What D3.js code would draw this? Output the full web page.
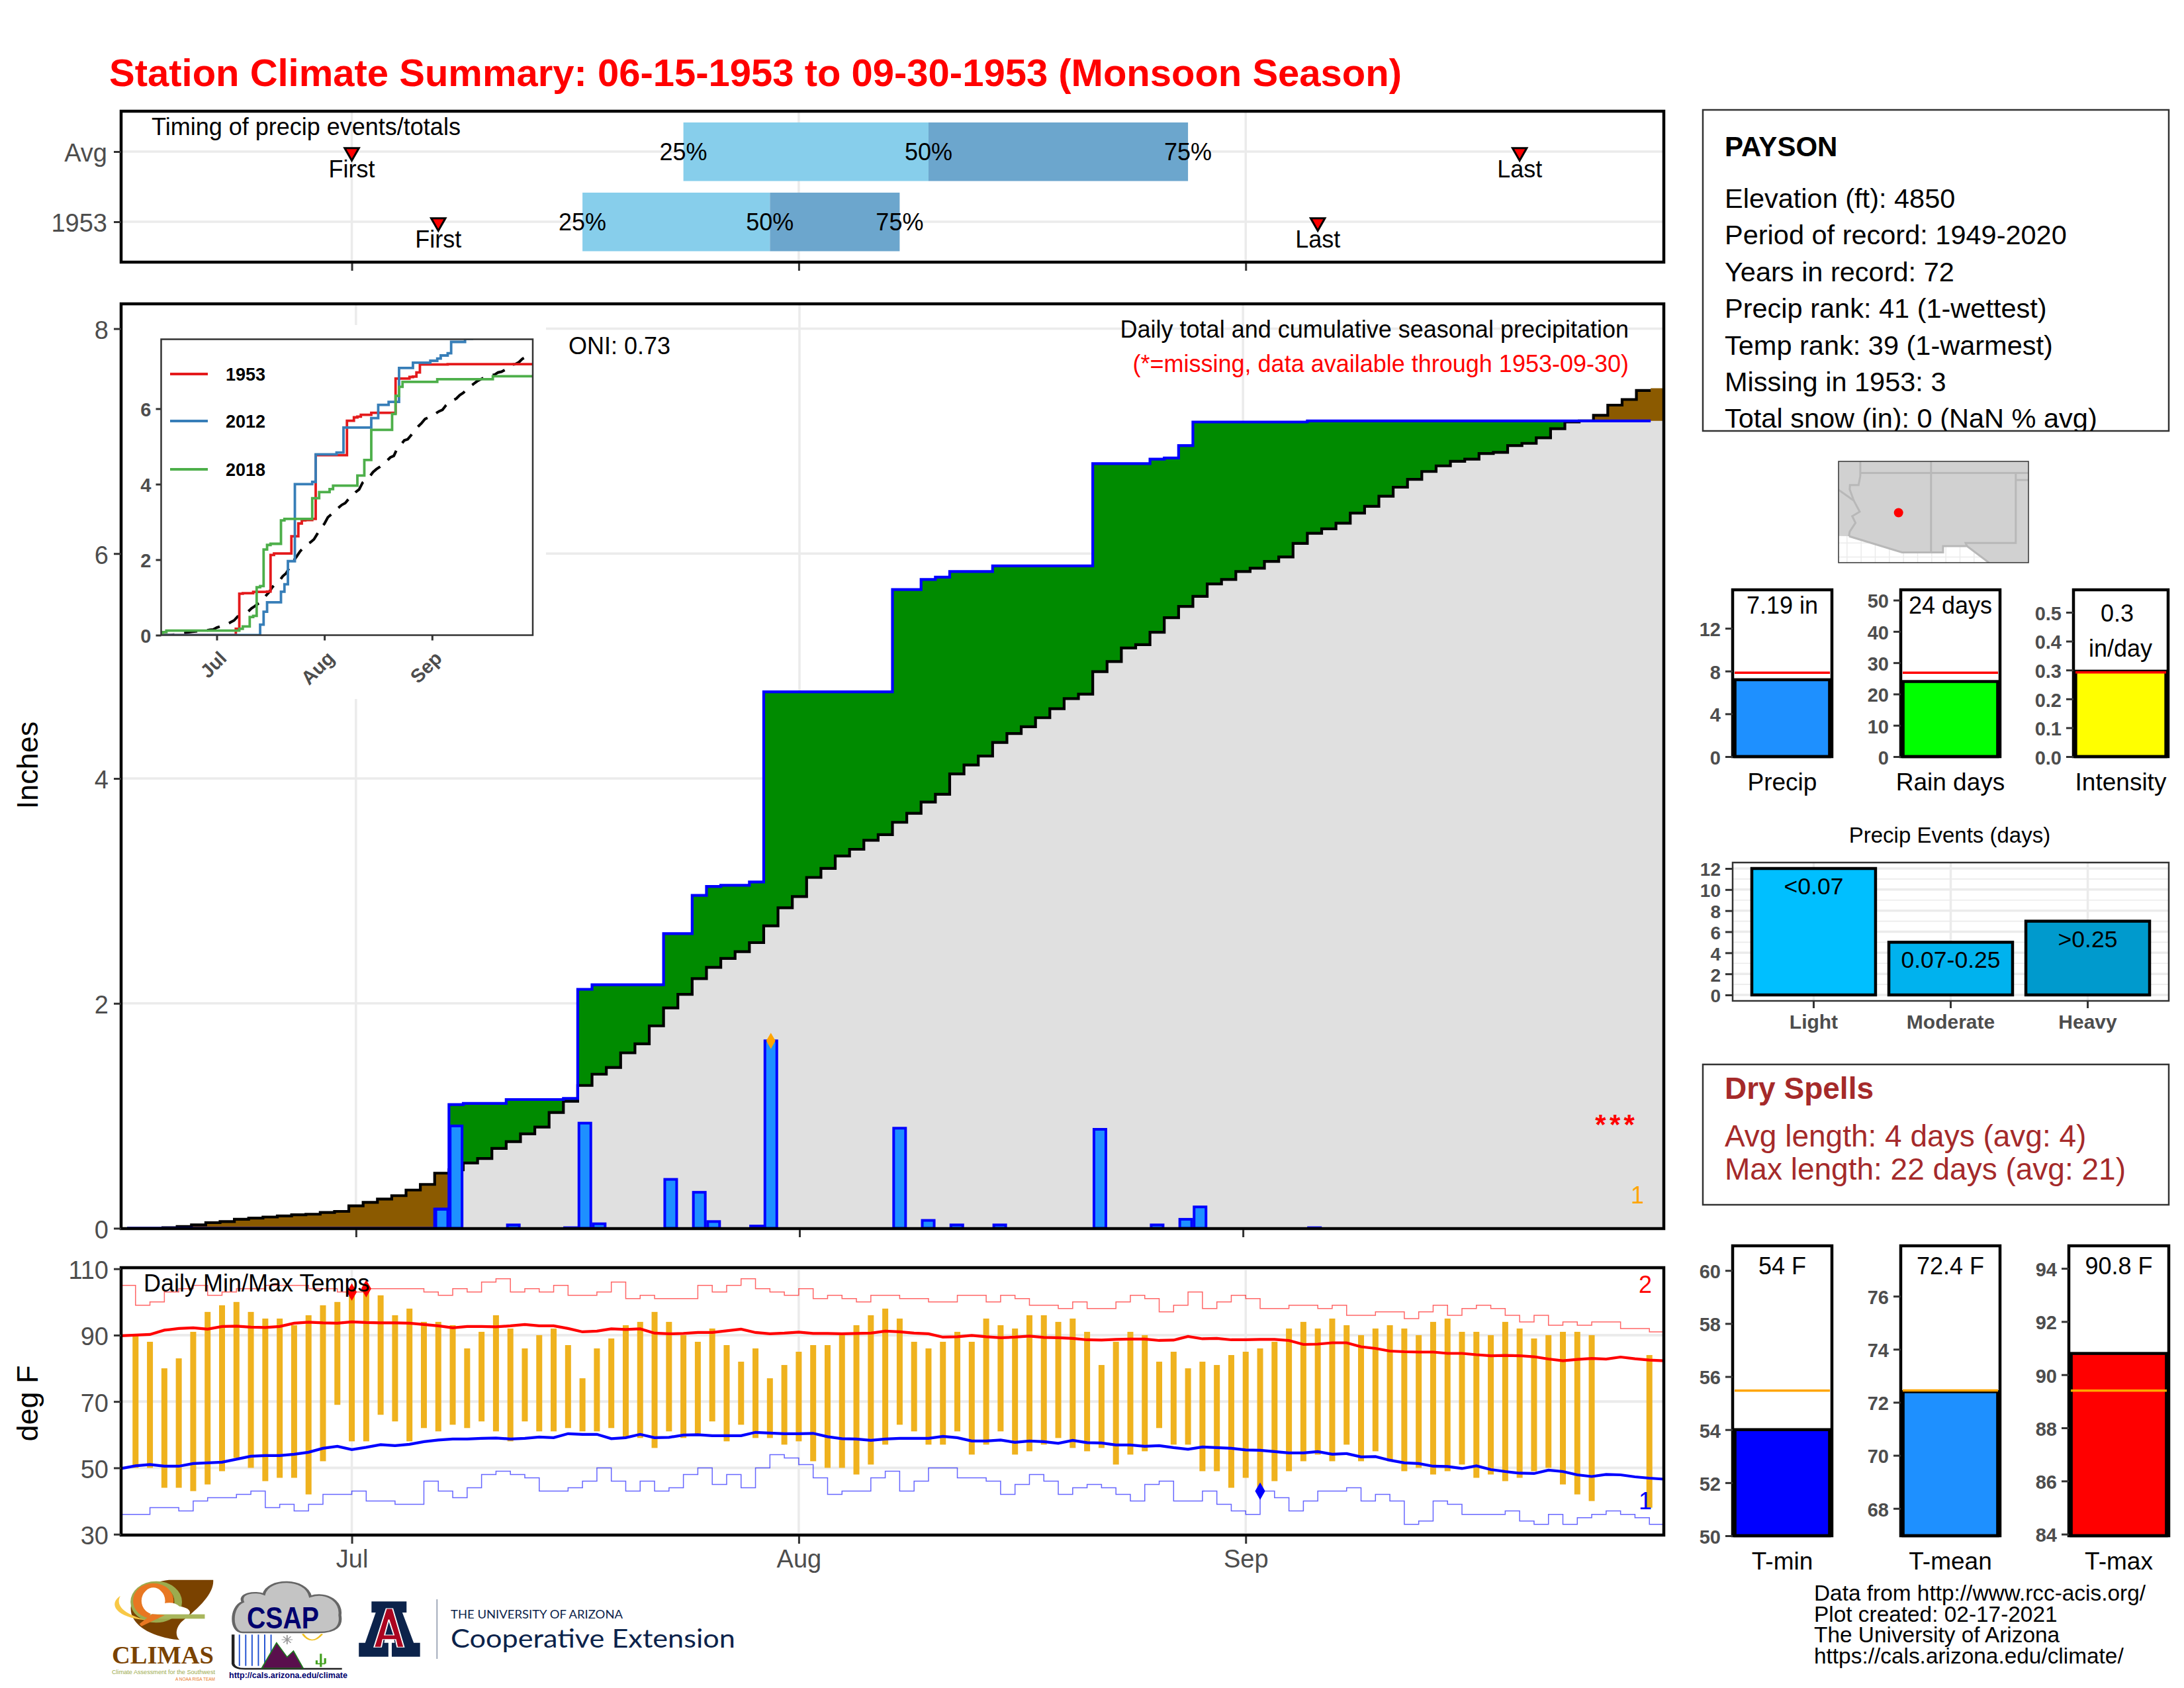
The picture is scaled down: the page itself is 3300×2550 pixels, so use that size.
<!DOCTYPE html>
<html>
<head>
<meta charset="utf-8">
<script src="https://cdnjs.cloudflare.com/ajax/libs/d3/7.8.5/d3.min.js"></script>
<style>
  html, body { margin: 0; padding: 0; background: #fff; }
  text { font-family: "Liberation Sans", Arial, sans-serif; }
</style>
</head>
<body>
<div id="chart"></div>
<script>
// ---- values, one entry per day from 06-15 to 09-30 ----
var avgCum = [
  0,0,0,.005,.015,.03,.05,.06,.08,.09,
  .10,.11,.12,.125,.14,.15,.20,.23,.26,.29,
  .34,.39,.49,.52,.58,.62,.71,.77,.84,.90,
  1.03,1.13,1.27,1.37,1.43,1.56,1.64,1.80,1.96,2.08,
  2.22,2.32,2.40,2.46,2.54,2.69,2.85,2.95,3.12,3.20,
  3.31,3.37,3.45,3.50,3.61,3.69,3.79,3.86,4.04,4.12,
  4.20,4.32,4.40,4.46,4.54,4.62,4.71,4.75,4.95,5.04,
  5.16,5.19,5.30,5.43,5.53,5.62,5.73,5.77,5.84,5.87,
  5.93,5.97,6.09,6.18,6.22,6.27,6.36,6.42,6.51,6.59,
  6.66,6.73,6.78,6.82,6.84,6.89,6.90,6.96,6.98,7.03,
  7.11,7.17,7.18,7.23,7.32,7.37,7.45,7.47];
var obsCum = [
  0,0,0,0,0,0,0,0,0,0,
  0,0,0,0,0,0,0,0,0,0,
  0,0,.17,1.10,1.11,1.11,1.11,1.145,1.145,1.145,
  1.145,1.155,2.125,2.165,2.165,2.165,2.165,2.165,2.62,2.62,
  2.96,3.04,3.05,3.05,3.08,4.77,4.77,4.77,4.77,4.77,
  4.77,4.77,4.77,4.77,5.68,5.68,5.77,5.79,5.84,5.84,
  5.84,5.89,5.89,5.89,5.89,5.89,5.89,5.89,6.80,6.80,
  6.80,6.80,6.84,6.85,6.96,7.17,7.17,7.17,7.17,7.17,
  7.17,7.17,7.17,7.18,7.18,7.18,7.18,7.18,7.18,7.18,
  7.18,7.18,7.18,7.18,7.18,7.18,7.18,7.18,7.18,7.18,
  7.18,7.18,7.18,7.18,7.18,7.18,7.18,7.18];
var cum2012 = [
  0,0,0,0,0,0,0,0,0,0,
  0,0,0,0,0,0,0,0,0,0,
  0,0,0,0,0,0,0,0,0,.28,
  .62,.87,.87,.87,.87,1.15,1.35,1.96,1.96,4.0,
  4.0,4.0,4.0,4.0,4.06,4.79,4.79,4.79,4.79,4.79,
  4.79,4.84,4.84,5.5,5.5,5.5,5.5,5.5,5.5,5.5,
  5.5,5.75,5.75,6.1,6.1,6.1,6.18,6.18,6.18,7.08,
  7.08,7.08,7.08,7.22,7.22,7.22,7.22,7.22,7.27,7.27,
  7.33,7.41,7.41,7.47,7.77,7.77,7.77,7.77,7.85,7.85,
  7.9,7.9,7.9,7.9,7.9,7.9,7.9,7.9,7.9,7.9,
  7.9,7.9,7.9,7.9,7.9,7.9,7.9,7.9];
var cum2018 = [
  .05,.08,.12,.12,.12,.12,.12,.12,.12,.12,
  .12,.12,.12,.12,.12,.12,.12,.12,.12,.12,
  .12,.12,.12,.17,.23,.23,.48,.51,1.27,1.30,
  2.27,2.39,2.42,2.42,2.42,3.04,3.08,3.08,3.08,3.08,
  3.08,3.08,3.08,3.08,3.63,3.63,3.79,3.79,3.79,3.87,
  3.96,3.96,3.96,3.96,3.96,3.96,3.96,4.23,4.23,4.64,
  4.64,5.44,5.44,5.44,5.44,5.44,5.44,5.86,6.34,6.58,
  6.71,6.71,6.71,6.71,6.71,6.71,6.71,6.71,6.71,6.71,
  6.78,6.78,6.78,6.78,6.78,6.78,6.78,6.78,6.78,6.78,
  6.78,6.78,6.78,6.78,6.78,6.78,6.86,6.86,6.86,6.86,
  6.86,6.86,6.86,6.86,6.86,6.86,6.86,6.86];
var inchTicks = [0,2,4,6,8];
var insetTicks = [0,2,4,6];
var monthTicks = ["1953-07-01","1953-08-01","1953-09-01"];

var precipDates = ["1953-07-07","1953-07-08","1953-07-12","1953-07-16","1953-07-17","1953-07-18","1953-07-23","1953-07-25","1953-07-26","1953-07-29","1953-07-30","1953-08-08","1953-08-10","1953-08-12","1953-08-15","1953-08-22","1953-08-26","1953-08-28","1953-08-29","1953-09-06"];
var precipVals = [.17,.91,.03,.005,.935,.04,.435,.32,.06,.02,1.667,.89,.07,.03,.03,.88,.03,.08,.19,.005];
var missingDates = ["1953-09-26","1953-09-27","1953-09-28"];

var tmax = [
  null,90,88,80,83,91,97,99,100,97,
  95,95,93,96,99,100,103,104,102,96,
  98,94,94,93,86,91,96,92,86,90,
  92,87,77,86,89,93,94,97,94,90,
  88,92,87,82,86,77,81,85,87,87,
  90,93,96,98,95,88,86,88,91,88,
  95,93,92,96,96,94,95,91,81,88,
  91,90,82,85,80,82,81,84,85,86,
  88,92,94,92,95,93,90,92,93,92,
  90,94,95,91,91,90,94,92,89,90,
  91,91,90,null,null,null,84,null];
var tmin = [
  null,50,50,44,44,43,45,49,53,50,
  46,47,47,42,52,69,58,58,66,64,
  58,62,61,63,62,64,61,58,64,61,
  61,62,61,61,62,59,59,56,61,59,
  60,64,58,63,59,59,57,58,52,50,
  50,48,51,57,63,61,57,57,61,54,
  57,61,54,55,57,59,56,55,56,51,
  54,55,62,57,57,49,49,44,47,43,
  46,49,52,54,52,57,52,55,52,49,
  50,48,49,51,47,48,46,47,49,50,
  45,42,40,null,null,null,38,null];
var meanHigh = [
  89.8,90,90.2,91.5,92,92.2,91.8,92.6,92.7,92.4,
  92.3,92.6,93.6,93.9,93.7,93.6,94,93.8,93.7,93.7,
  93.6,93.2,92.8,92.2,92.6,92.6,92.5,92.8,93.2,92.8,
  92.8,92,91,91.2,91.9,91.7,91.9,90.6,90.4,90.5,
  90.8,90.8,91.3,91.8,90.8,90.4,90.6,90.9,90.5,90.5,
  90.4,90.5,90.6,91.2,91,90.6,90.4,89.4,89.5,89.9,
  89.5,89.2,89.4,89.7,89.3,89.2,89,88.6,88.5,88.7,
  88.8,88.8,88.4,88.5,89.6,88.9,89,88.6,88.6,88.7,
  88.7,88.4,87.2,87.3,87.7,87.7,86.5,86,85.2,85,
  84.9,84.9,84.5,84.5,84.1,83.8,83.9,83.8,83.5,82.8,
  82.3,82.7,83,82.8,83.4,82.9,82.5,82.3];
var meanLow = [
  49.8,50.6,51,50.5,50.5,51.3,51.5,51.7,52.6,53.5,
  53.7,53.7,54.1,54.7,55.9,56.5,55.5,56.2,57,56.7,
  57.1,57.9,58.4,58.7,58.7,58.9,59,58.7,58.9,59.3,
  59.1,60.3,60.1,60.1,58.8,59.1,60.1,59.1,59.2,59.9,
  60,59.7,59.7,59.7,60.7,60.5,60.3,60.3,60.4,59.4,
  58.8,58.7,58.3,58.7,58.9,58.9,58.9,59.5,59.1,58.1,
  58.1,58.4,57.7,58.1,57.9,57.4,58.3,57.6,57.5,56.9,
  56.9,56.5,56.7,56.1,55.6,56.3,56.1,55.9,55.4,55.3,
  54.9,54.5,54.5,54.9,54.1,54.3,53.3,53.4,52.3,51.5,
  51.3,50.5,50.4,49.8,50.6,49.5,48.9,48.4,48.3,49.3,
  48.9,47.9,47.4,48,47.9,47.3,46.9,46.6];
var recHigh = [
  105,99,100,103,104,105,102,103,104,104,
  105,105,105,104,104,103,103,104,104,104,
  104,103,102,104,103,106,107,103,104,103,
  105,102,102,103,106,101,102,101,101,101,
  105,103,105,107,104,103,102,104,101,102,
  101,100,102,102,101,101,100,100,102,102,
  100,102,101,99,99,98,100,98,98,100,
  102,101,97,99,103,98,100,102,101,98,
  98,99,99,98,99,96,96,97,97,95,
  97,99,96,98,99,98,96,94,96,93,
  94,93,94,94,92,92,91,91];
var recLow = [
  36,36,38,38,37,40,41,41,42,43,
  38,39,37,39,42,42,43,40,40,39,
  39,46,43,41,44,48,49,48,47,43,
  43,44,46,50,46,43,46,43,44,48,
  50,45,48,44,50,54,53,51,47,42,
  43,43,47,49,43,46,50,50,47,47,
  46,42,45,48,46,42,44,45,44,42,
  40,45,46,40,40,43,39,37,36,43,
  41,37,40,43,43,44,40,42,40,33,
  34,40,39,36,36,36,37,34,33,36,
  33,35,36,37,36,35,33,33];
var tempTicks = [30,50,70,90,110];
var recordHighDates = ["1953-07-01","1953-07-02"];
var recordLowDates = ["1953-09-02"];

var timingRows = ["Avg","1953"];
var timingFirst = ["1953-07-01","1953-07-07"];
var timingLast = ["1953-09-20","1953-09-06"];
var timingQ25 = ["1953-07-24","1953-07-17"];
var timingQ50 = ["1953-08-10","1953-07-30"];
var timingQ75 = ["1953-08-28","1953-08-08"];

var eventCats = ["Light","Moderate","Heavy"];
var eventVals = [12,5,7];
var eventLabels = ["<0.07","0.07-0.25",">0.25"];
var eventColors = ["#00BFFF","#00B2EE","#009ACD"];

var infoLines = ["Elevation (ft): 4850","Period of record: 1949-2020","Years in record: 72","Precip rank: 41 (1-wettest)","Temp rank: 39 (1-warmest)","Missing in 1953: 3","Total snow (in): 0 (NaN % avg)"];
var creditLines = ["Data from http://www.rcc-acis.org/","Plot created: 02-17-2021","The University of Arizona","https://cals.arizona.edu/climate/"];

// outlines in lon/lat for the little locator map
var mapLand = [[-115.6,32.5],[-114.86,32.49],[-111.1,31.33],[-108.2,31.33],[-108.2,31.78],[-106.5,31.78],[-104.95,30.6],[-102.15,30.6],[-102.15,37.83],[-115.6,37.83]];
var mapBorders = [
  [[-114.86,32.49],[-114.81,32.81],[-114.4,33.44],[-114.63,33.92],[-114.1,34.24],[-114.52,35.03],[-114.81,35.83],[-114.79,36.14],[-114.18,36.14],[-114.06,36.78],[-114.06,37.83]],
  [[-115.6,35.8],[-114.55,35.05]],
  [[-114.06,37],[-102.15,37]],
  [[-109.05,37.83],[-109.05,31.33]],
  [[-103.05,37],[-103.05,32],[-106.6,32],[-106.5,31.78]],
  [[-103.05,36.5],[-102.15,36.5]],
  [[-114.86,32.49],[-111.1,31.33],[-108.2,31.33],[-108.2,31.78],[-106.5,31.78],[-104.95,30.6]]
];
var stationLonLat = [-111.35,34.17];

// ---- layout ----
var svg = d3.select("#chart").append("svg").attr("width",3300).attr("height",2550).attr("viewBox","0 0 3300 2550");
svg.append("rect").attr("width",3300).attr("height",2550).attr("fill","#fff");
var defs = svg.append("defs");
var parseDate = d3.utcParse("%Y-%m-%d");
var days = d3.utcDay.range(parseDate("1953-06-15"), parseDate("1953-10-01"));
var months = monthTicks.map(parseDate);
var GRID = "#EBEBEB", TICK = "#333333", LABEL = "#4D4D4D";

// timing and temp panels run edge to edge, the main panel has a small margin
var x = d3.scaleUtc().domain([days[0], days[days.length-1]]).range([183,2514]);
var xMain = d3.scaleUtc().domain([days[0], days[days.length-1]]).range([192,2505]);

function txt(g, xp, yp, s, o) {
  o = o || {};
  var t = g.append("text").attr("x",xp).attr("y",yp).text(s)
    .attr("font-size",o.size||36).attr("fill",o.fill||"#000")
    .attr("text-anchor",o.anchor||"start");
  if (o.bold) t.attr("font-weight","bold");
  if (o.family) t.style("font-family",o.family);
  if (o.len) t.attr("textLength",o.len).attr("lengthAdjust","spacingAndGlyphs");
  return t;
}
function clip(id, xp, yp, w, h) {
  defs.append("clipPath").attr("id",id).append("rect").attr("x",xp).attr("y",yp).attr("width",w).attr("height",h);
  return "url(#"+id+")";
}
function frame(g, xp, yp, w, h, col, sw) {
  g.append("rect").attr("x",xp).attr("y",yp).attr("width",w).attr("height",h)
    .attr("fill","none").attr("stroke",col||"#000").attr("stroke-width",sw||4.5);
}
function styleAxis(a, size, bold) {
  a.select(".domain").remove();
  a.selectAll(".tick line").attr("stroke",TICK).attr("stroke-width",3);
  a.selectAll(".tick text").attr("fill",LABEL).attr("font-size",size)
    .attr("font-weight",bold?"bold":"normal").style("font-family",'"Liberation Sans"')
    .attr("dy",function(){ return d3.select(this).attr("dy")==="0.32em" ? "0.39em" : d3.select(this).attr("dy"); });
}
function vGrid(g, sx, y0, y1) {
  g.selectAll(null).data(months).enter().append("line")
    .attr("x1",function(d){return sx(d);}).attr("x2",function(d){return sx(d);})
    .attr("y1",y0).attr("y2",y1).attr("stroke",GRID).attr("stroke-width",3.5);
}
function hGrid(g, ticks, sc, x0, x1, sw) {
  g.selectAll(null).data(ticks).enter().append("line")
    .attr("x1",x0).attr("x2",x1)
    .attr("y1",function(d){return sc(d);}).attr("y2",function(d){return sc(d);})
    .attr("stroke",GRID).attr("stroke-width",sw||3.5);
}
function monthTickMarks(sx, yp) {
  var a = svg.append("g").attr("transform","translate(0,"+yp+")")
    .call(d3.axisBottom(sx).tickValues(months).tickSize(11).tickSizeOuter(0).tickFormat(""));
  styleAxis(a,35);
  return a;
}

// title
txt(svg,165,130,"Station Climate Summary: 06-15-1953 to 09-30-1953 (Monsoon Season)",{size:58,bold:true,fill:"#FF0000",len:1953});

// ---- timing panel ----
var tY = d3.scalePoint().domain(timingRows).range([229,335]);
var tg = svg.append("g");
vGrid(tg,x,168,396);
tg.selectAll(null).data(timingRows).enter().append("line")
  .attr("x1",183).attr("x2",2514).attr("y1",function(d){return tY(d);}).attr("y2",function(d){return tY(d);})
  .attr("stroke",GRID).attr("stroke-width",3.5);
var BAND_H = 88.5;
timingRows.forEach(function(r,i){
  var q25 = x(parseDate(timingQ25[i])), q50 = x(parseDate(timingQ50[i])), q75 = x(parseDate(timingQ75[i]));
  tg.append("rect").attr("x",q25).attr("y",tY(r)-44).attr("width",q50-q25).attr("height",BAND_H).attr("fill","#87CEEB");
  tg.append("rect").attr("x",q50).attr("y",tY(r)-44).attr("width",q75-q50).attr("height",BAND_H).attr("fill","#6CA6CD");
  [[q25,"25%"],[q50,"50%"],[q75,"75%"]].forEach(function(p){
    txt(tg,p[0],tY(r)+13,p[1],{anchor:"middle"});
  });
  [[timingFirst[i],"First"],[timingLast[i],"Last"]].forEach(function(p){
    var xp = x(parseDate(p[0]));
    tg.append("path").attr("d",d3.symbol().type(d3.symbolTriangle).size(200)())
      .attr("transform","translate("+xp+","+(tY(r)+1)+") rotate(180)")
      .attr("fill","#FF0000").attr("stroke","#000").attr("stroke-width",3);
    txt(tg,xp,tY(r)+39,p[1],{anchor:"middle"});
  });
});
txt(tg,229,204,"Timing of precip events/totals");
frame(svg,183,168,2331,228);
styleAxis(svg.append("g").attr("transform","translate(183,0)").call(d3.axisLeft(tY).tickSize(11).tickPadding(10)),38);
monthTickMarks(x,398);

// ---- main precip panel ----
var y = d3.scaleLinear().domain([0,8]).range([1855.5,496.5]);
var mg = svg.append("g").attr("clip-path",clip("mainClip",183,459,2331,1397));
vGrid(mg,xMain,459,1856);
hGrid(mg,inchTicks,y,183,2514);

var rows = days.map(function(d,i){ return {date:d, avg:avgCum[i], obs:obsCum[i]}; });
// fills run on to the frame, the two step lines stop half a day after 09-29
var fillRows = rows.concat([{date:d3.utcDay.offset(days[107],1), avg:avgCum[107], obs:obsCum[107]}]);
var lineRows = rows.slice(0,107).concat([{date:new Date(+days[106]+432e5), avg:avgCum[106], obs:obsCum[106]}]);
function areaTo(f){ return d3.area().x(function(d){return xMain(d.date);}).y0(y(0)).y1(function(d){return y(f(d));}).curve(d3.curveStep); }
function stepLine(sx,sy,f,curve){ return d3.line().x(function(d){return sx(d.date);}).y(function(d){return sy(f(d));}).curve(curve||d3.curveStep); }
mg.append("path").datum(fillRows).attr("d",areaTo(function(d){return d.obs;})).attr("fill","#008B00");
mg.append("path").datum(fillRows).attr("d",areaTo(function(d){return d.avg;})).attr("fill","#8B5A00");
mg.append("path").datum(fillRows).attr("d",areaTo(function(d){return Math.min(d.avg,d.obs);})).attr("fill","#E0E0E0");
mg.append("path").datum(lineRows).attr("d",stepLine(xMain,y,function(d){return d.avg;})).attr("fill","none").attr("stroke","#000").attr("stroke-width",4.2);
mg.selectAll(null).data(precipDates).enter().append("rect")
  .attr("x",function(d){return xMain(parseDate(d))-9;}).attr("width",18)
  .attr("y",function(d,i){return y(precipVals[i]);}).attr("height",function(d,i){return y(0)-y(precipVals[i]);})
  .attr("fill","#1E90FF").attr("stroke","#0000FF").attr("stroke-width",4);
mg.append("path").datum(lineRows).attr("d",stepLine(xMain,y,function(d){return d.obs;})).attr("fill","none").attr("stroke","#0000FF").attr("stroke-width",4.2);
var maxIdx = d3.maxIndex(precipVals);
mg.append("path").attr("d",d3.symbol().type(d3.symbolDiamond).size(170)())
  .attr("transform","translate("+xMain(parseDate(precipDates[maxIdx]))+","+y(precipVals[maxIdx])+")").attr("fill","#FFA500");
missingDates.forEach(function(d){
  txt(mg,xMain(parseDate(d)),y(.97)+22,"*",{size:42,bold:true,fill:"#FF0000",anchor:"middle"});
});
txt(mg,2474,1818,"1",{size:36,fill:"#FFA500",anchor:"middle"});
txt(mg,859,535,"ONI: 0.73");
txt(mg,2461,510,"Daily total and cumulative seasonal precipitation",{anchor:"end"});
txt(mg,2461,562,"(*=missing, data available through 1953-09-30)",{fill:"#FF0000",anchor:"end"});

// inset
var ix = d3.scaleUtc().domain([days[0],days[days.length-1]]).range([243.5,805]);
var iy = d3.scaleLinear().domain([0,7.84]).range([959.5,512.5]);
mg.append("rect").attr("x",183).attr("y",491).attr("width",642).attr("height",565).attr("fill","#fff");
var ig = svg.append("g");
var ilines = ig.append("g").attr("clip-path",clip("insetClip",243.5,512.5,561.5,447));
function insetLine(vals,col,sw,dash,curve){
  var p = ilines.append("path").datum(days.map(function(d,i){return {date:d,v:vals[i]};}))
    .attr("d",stepLine(ix,iy,function(d){return d.v;},curve)).attr("fill","none").attr("stroke",col).attr("stroke-width",sw);
  if (dash) p.attr("stroke-dasharray",dash);
}
insetLine(avgCum,"#000",4,"20 15",d3.curveLinear);
insetLine(obsCum,"#E41A1C",3.8);
insetLine(cum2012,"#377EB8",3.8);
insetLine(cum2018,"#4DAF4A",3.8);
frame(ig,243.5,512.5,561.5,447,TICK,2.5);
styleAxis(ig.append("g").attr("transform","translate(243.5,0)").call(d3.axisLeft(iy).tickValues(insetTicks).tickFormat(d3.format("d")).tickSize(8).tickPadding(7)),29,true);
var iax = ig.append("g").attr("transform","translate(0,959.5)").call(d3.axisBottom(ix).tickValues(months).tickSize(8).tickSizeOuter(0).tickFormat(d3.utcFormat("%b")));
styleAxis(iax,29,true);
iax.selectAll(".tick text").attr("text-anchor","end").attr("transform","rotate(-45) translate(-14.5,6)");
[["1953","#E41A1C",565],["2012","#377EB8",636],["2018","#4DAF4A",709]].forEach(function(p){
  ig.append("line").attr("x1",257).attr("x2",314).attr("y1",p[2]).attr("y2",p[2]).attr("stroke",p[1]).attr("stroke-width",3.8);
  txt(ig,341,p[2]+10,p[0],{size:27,bold:true});
});

frame(svg,183,459,2331,1397);
styleAxis(svg.append("g").attr("transform","translate(183,0)").call(d3.axisLeft(y).tickValues(inchTicks).tickSize(11).tickPadding(8)),38);
monthTickMarks(xMain,1858);
txt(svg,0,0,"Inches",{size:45,anchor:"middle"}).attr("transform","translate(57,1156) rotate(-90)");

// ---- temperature panel ----
var ty = d3.scaleLinear().domain([30,110]).range([2317.7,1916.7]);
var pg = svg.append("g").attr("clip-path",clip("tempClip",183,1915,2331,404));
vGrid(pg,x,1915,2319);
hGrid(pg,tempTicks,ty,183,2514,4);
var trows = days.map(function(d,i){ return {date:d,tmax:tmax[i],tmin:tmin[i],mh:meanHigh[i],ml:meanLow[i],rh:recHigh[i],rl:recLow[i]}; });
pg.selectAll(null).data(trows.filter(function(d){return d.tmax!==null;})).enter().append("rect")
  .attr("x",function(d){return x(d.date)-4.5;}).attr("width",9)
  .attr("y",function(d){return ty(d.tmax);}).attr("height",function(d){return ty(d.tmin)-ty(d.tmax);})
  .attr("fill","#EFB21E");
pg.append("path").datum(trows).attr("d",stepLine(x,ty,function(d){return d.rh;},d3.curveStepAfter)).attr("fill","none").attr("stroke","#FF0000").attr("stroke-opacity",.6).attr("stroke-width",1.5);
pg.append("path").datum(trows).attr("d",stepLine(x,ty,function(d){return d.rl;},d3.curveStepAfter)).attr("fill","none").attr("stroke","#0000FF").attr("stroke-opacity",.6).attr("stroke-width",1.5);
pg.append("path").datum(trows).attr("d",stepLine(x,ty,function(d){return d.mh;},d3.curveLinear)).attr("fill","none").attr("stroke","#FF0000").attr("stroke-width",4.2);
pg.append("path").datum(trows).attr("d",stepLine(x,ty,function(d){return d.ml;},d3.curveLinear)).attr("fill","none").attr("stroke","#0000FF").attr("stroke-width",4.2);
function tempAt(list,dateStr){ return list[d3.utcDay.count(days[0],parseDate(dateStr))]; }
recordHighDates.forEach(function(d){
  pg.append("path").attr("d",d3.symbol().type(d3.symbolDiamond).size(200)())
    .attr("transform","translate("+x(parseDate(d))+","+ty(tempAt(tmax,d))+")").attr("fill","#FF0000");
});
recordLowDates.forEach(function(d){
  pg.append("path").attr("d",d3.symbol().type(d3.symbolDiamond).size(200)())
    .attr("transform","translate("+x(parseDate(d))+","+ty(tempAt(tmin,d))+")").attr("fill","#0000FF");
});
txt(pg,217,1951,"Daily Min/Max Temps");
txt(pg,2486,1953,"2",{fill:"#FF0000",anchor:"middle"});
txt(pg,2486,2280,"1",{fill:"#0000FF",anchor:"middle"});
frame(svg,183,1915,2331,404);
styleAxis(svg.append("g").attr("transform","translate(183,0)").call(d3.axisLeft(ty).tickValues(tempTicks).tickSize(11).tickPadding(8)),38);
var bottomAx = svg.append("g").attr("transform","translate(0,2321)")
  .call(d3.axisBottom(x).tickValues(months).tickSize(11).tickSizeOuter(0).tickPadding(9).tickFormat(d3.utcFormat("%b")));
styleAxis(bottomAx,38);
txt(svg,0,0,"deg F",{size:45,anchor:"middle"}).attr("transform","translate(57,2120) rotate(-90)");

// ---- info box ----
frame(svg,2573,166,704,485,TICK,2.5);
var ib = svg.append("g").attr("clip-path",clip("infoClip",2573,166,704,485));
txt(ib,2606,236,"PAYSON",{size:42,bold:true});
infoLines.forEach(function(s,i){ txt(ib,2606,314+i*55.4,s,{size:41.5}); });

// ---- locator map ----
var lon = d3.scaleLinear().domain([-115.6,-102.15]).range([2778,3065]);
var lat = d3.scaleLinear().domain([30.6,37.83]).range([850,697]);
var mapLine = d3.line().x(function(d){return lon(d[0]);}).y(function(d){return lat(d[1]);});
var mp = svg.append("g").attr("clip-path",clip("mapClip",2778,697,287,153));
mp.append("rect").attr("x",2778).attr("y",697).attr("width",287).attr("height",153).attr("fill","#fff");
[-115,-114,-113,-112,-111,-110,-109,-108,-107,-106].forEach(function(l){
  mp.append("line").attr("x1",lon(l)).attr("x2",lon(l)).attr("y1",780).attr("y2",850).attr("stroke",GRID).attr("stroke-width",1.5);
});
[31,32].forEach(function(l){
  mp.append("line").attr("x1",2778).attr("x2",3065).attr("y1",lat(l)).attr("y2",lat(l)).attr("stroke",GRID).attr("stroke-width",1.5);
});
mp.append("path").attr("d",mapLine(mapLand)+"Z").attr("fill","#D1D1D1");
mapBorders.forEach(function(b){
  mp.append("path").attr("d",mapLine(b)).attr("fill","none").attr("stroke","#B8B8B8").attr("stroke-width",3);
});
mp.append("circle").attr("cx",lon(stationLonLat[0])).attr("cy",lat(stationLonLat[1])).attr("r",7).attr("fill","#FF0000");
frame(svg,2778,697,287,153,TICK,1.5);

// ---- small gauge bars ----
function gauge(o) {
  var g = svg.append("g");
  var sy = d3.scaleLinear().domain(o.domain).range([o.bottom,o.top]);
  var band = d3.scaleBand().domain([o.label]).range([o.left,o.right]).paddingInner(0).paddingOuter(.025);
  g.append("rect").attr("x",o.left).attr("y",o.top).attr("width",o.right-o.left).attr("height",o.bottom-o.top).attr("fill","#fff");
  g.append("rect").attr("x",band(o.label)).attr("width",band.bandwidth())
    .attr("y",sy(o.value)).attr("height",o.bottom-sy(o.value))
    .attr("fill",o.color).attr("stroke","#000").attr("stroke-width",4.5);
  g.append("line").attr("x1",o.left+3).attr("x2",o.right-3).attr("y1",sy(o.avg)).attr("y2",sy(o.avg)).attr("stroke",o.lineColor).attr("stroke-width",3.5);
  frame(g,o.left,o.top,o.right-o.left,o.bottom-o.top,"#000",4.5);
  var ax = g.append("g").attr("transform","translate("+o.left+",0)")
    .call(d3.axisLeft(sy).tickValues(o.ticks).tickFormat(o.fmt||d3.format("d")).tickSize(11).tickPadding(7));
  styleAxis(ax,29,true);
  var cx = (o.left+o.right)/2;
  o.texts.forEach(function(t){ txt(g,t.x||cx,t.y,t.s,{size:36,anchor:"middle"}); });
  txt(g,cx,o.labelY,o.label,{size:37,anchor:"middle"});
}
gauge({label:"Precip",left:2618,right:2768,top:891,bottom:1143,domain:[0,15.6],value:7.19,avg:7.85,color:"#1E90FF",lineColor:"#FF0000",ticks:[0,4,8,12],labelY:1194,texts:[{s:"7.19 in",y:927}]});
gauge({label:"Rain days",left:2872,right:3022,top:891,bottom:1143,domain:[0,53.3],value:24,avg:26.8,color:"#00FF00",lineColor:"#FF0000",ticks:[0,10,20,30,40,50],labelY:1194,texts:[{s:"24 days",y:927}]});
gauge({label:"Intensity",left:3133,right:3276,top:891,bottom:1143,domain:[0,.578],value:.296,avg:.292,color:"#FFFF00",lineColor:"#FF0000",ticks:[0,.1,.2,.3,.4,.5],fmt:d3.format(".1f"),labelY:1194,texts:[{s:"0.3",y:939,x:3199},{s:"in/day",y:992,x:3204}]});
gauge({label:"T-min",left:2618,right:2768,top:1882,bottom:2320,domain:[50,60.93],value:54,avg:55.47,color:"#0000FF",lineColor:"#FFA500",ticks:[50,52,54,56,58,60],labelY:2371,texts:[{s:"54 F",y:1925}]});
gauge({label:"T-mean",left:2872,right:3022,top:1882,bottom:2320,domain:[66.97,77.9],value:72.4,avg:72.45,color:"#1E90FF",lineColor:"#FFA500",ticks:[68,70,72,74,76],labelY:2371,texts:[{s:"72.4 F",y:1925}]});
gauge({label:"T-max",left:3126,right:3277,top:1882,bottom:2320,domain:[83.94,94.85],value:90.8,avg:89.4,color:"#FF0000",lineColor:"#FFA500",ticks:[84,86,88,90,92,94],labelY:2371,texts:[{s:"90.8 F",y:1925}]});

// ---- precip events ----
var eg = svg.append("g");
var ey = d3.scaleLinear().domain([0,12]).range([1503,1312]);
var ex = d3.scaleBand().domain(eventCats).range([2618,3277]).paddingInner(.097).paddingOuter(.14);
txt(eg,2946,1273,"Precip Events (days)",{size:33,anchor:"middle"});
hGrid(eg,d3.range(1,13,2),ey,2618,3277,1.6);
hGrid(eg,d3.range(0,13,2),ey,2618,3277,3.5);
eg.selectAll(null).data(eventCats).enter().append("line")
  .attr("x1",function(d){return ex(d)+ex.bandwidth()/2;}).attr("x2",function(d){return ex(d)+ex.bandwidth()/2;})
  .attr("y1",1303).attr("y2",1512).attr("stroke",GRID).attr("stroke-width",3.5);
eg.selectAll(null).data(eventCats).enter().append("rect")
  .attr("x",function(d){return ex(d);}).attr("width",ex.bandwidth())
  .attr("y",function(d,i){return ey(eventVals[i]);}).attr("height",function(d,i){return ey(0)-ey(eventVals[i]);})
  .attr("fill",function(d,i){return eventColors[i];}).attr("stroke","#000").attr("stroke-width",4.5);
eventCats.forEach(function(c,i){
  txt(eg,ex(c)+ex.bandwidth()/2,ey(eventVals[i])+39,eventLabels[i],{size:35.5,anchor:"middle"});
});
frame(eg,2618,1303,659,209,TICK,2.5);
styleAxis(eg.append("g").attr("transform","translate(2618,0)").call(d3.axisLeft(ey).tickValues(d3.range(0,13,2)).tickSize(11).tickPadding(7)),28,true);
styleAxis(eg.append("g").attr("transform","translate(0,1512)").call(d3.axisBottom(ex).tickSize(11).tickPadding(10)),30,true);

// ---- dry spells ----
frame(svg,2573,1608,704,212,TICK,2.5);
txt(svg,2606,1660,"Dry Spells",{size:46,bold:true,fill:"#A52A2A"});
txt(svg,2606,1732,"Avg length: 4 days (avg: 4)",{size:46,fill:"#A52A2A"});
txt(svg,2606,1782,"Max length: 22 days (avg: 21)",{size:46,fill:"#A52A2A"});

// ---- credits ----
creditLines.forEach(function(s,i){ txt(svg,2741,2418+i*31.5,s,{size:33.4}); });

// ---- logos, rough vector copies (drawn in a 1568x630 box over the strip) ----
var lg = svg.append("g").attr("transform","translate(150,2340) scale("+(1/1.568)+","+(1/3)+")");
lg.append("path").attr("d","M165,140 L270,140 C272,200 240,260 195,330 C180,360 180,395 190,412 C120,400 70,340 75,260 C80,190 120,150 165,140Z").attr("fill","#7A4200");
lg.append("ellipse").attr("cx",135).attr("cy",240).attr("rx",52).attr("ry",85).attr("fill","none").attr("stroke","#9CAB4E").attr("stroke-width",18);
lg.append("ellipse").attr("cx",128).attr("cy",235).attr("rx",38).attr("ry",70).attr("fill","#fff").attr("stroke","#E87722").attr("stroke-width",20);
lg.append("path").attr("d","M120,300 C130,250 170,225 190,260 C215,265 220,290 210,300Z").attr("fill","#fff");
lg.append("rect").attr("x",120).attr("y",296).attr("width",130).attr("height",20).attr("fill","#A8B65C");
lg.append("path").attr("d","M50,212 C20,250 40,310 110,322 C70,300 35,265 50,212Z").attr("fill","#F8C846");
lg.append("path").attr("d","M100,350 L155,300 L125,295 L95,340Z").attr("fill","#E87722");
lg.append("path").attr("d","M340,378 C310,378 310,262 340,240 C330,200 370,190 390,205 C400,130 490,130 500,215 C540,190 575,240 570,300 C575,350 560,378 520,378Z").attr("fill","#C4C4C4").attr("stroke","#666").attr("stroke-width",7);
[332,347,362,377,392,407].forEach(function(xp){
  lg.append("line").attr("x1",xp).attr("x2",xp).attr("y1",388).attr("y2",530).attr("stroke","#1E4FD0").attr("stroke-width",3);
});
lg.append("path").attr("d","M317,388 L317,520 Q320,543 345,543 L575,543").attr("fill","none").attr("stroke","#222").attr("stroke-width",7);
lg.append("path").attr("d","M385,540 L420,425 L445,490 L460,462 L483,540Z").attr("fill","#5A0F4D").attr("stroke","#1E7A1E").attr("stroke-width",3);
lg.append("path").attr("d","M482,385 Q503,440 528,385").attr("fill","none").attr("stroke","#F0C020").attr("stroke-width",5);
lg.append("path").attr("d","M445,390 L445,432 M432,411 L458,411 M436,397 L454,425 M454,397 L436,425").attr("stroke","#999").attr("stroke-width",3);
lg.append("path").attr("d","M525,475 L525,535 M515,505 L515,520 L535,520 M535,495 L535,520").attr("fill","none").attr("stroke","#44A020").attr("stroke-width",5);
lg.append("path").attr("d","M645,238 L728,238 L728,288 L718,288 L745,425 L760,425 L760,488 L693,488 L693,425 L700,425 L697,395 L678,395 L675,425 L685,425 L685,488 L615,488 L615,425 L630,425 L655,288 L645,288Z").attr("fill","#0C234B");
lg.append("path").attr("d","M680,270 L695,270 L722,445 L706,445 L702,410 L672,410 L668,445 L651,445Z M686,320 L676,390 L698,390Z").attr("fill","#AB0520").attr("fill-rule","evenodd").attr("stroke","#fff").attr("stroke-width",3);
lg.append("line").attr("x1",800).attr("x2",800).attr("y1",228).attr("y2",498).attr("stroke","#0C234B").attr("stroke-width",1.5);

txt(svg,169,2513,"CLIMAS",{size:38,family:'"Liberation Serif"',fill:"#7A4200",len:154,bold:true});
txt(svg,169,2529,"Climate Assessment for the Southwest",{size:9.5,fill:"#9CAB4E",len:156});
txt(svg,265,2539,"A NOAA RISA TEAM",{size:7,fill:"#E87722",len:60});
txt(svg,373,2460,"CSAP",{size:47,bold:true,fill:"#00006E",len:109});
txt(svg,346,2535,"http://cals.arizona.edu/climate",{size:12.5,bold:true,fill:"#00006E",len:179});
txt(svg,681,2445,"THE UNIVERSITY OF ARIZONA",{size:17.5,fill:"#0C234B",len:260,family:"Lato"});
txt(svg,681,2489,"Cooperative Extension",{size:38,fill:"#0C234B",len:430,family:"Lato"});
</script>
</body>
</html>
